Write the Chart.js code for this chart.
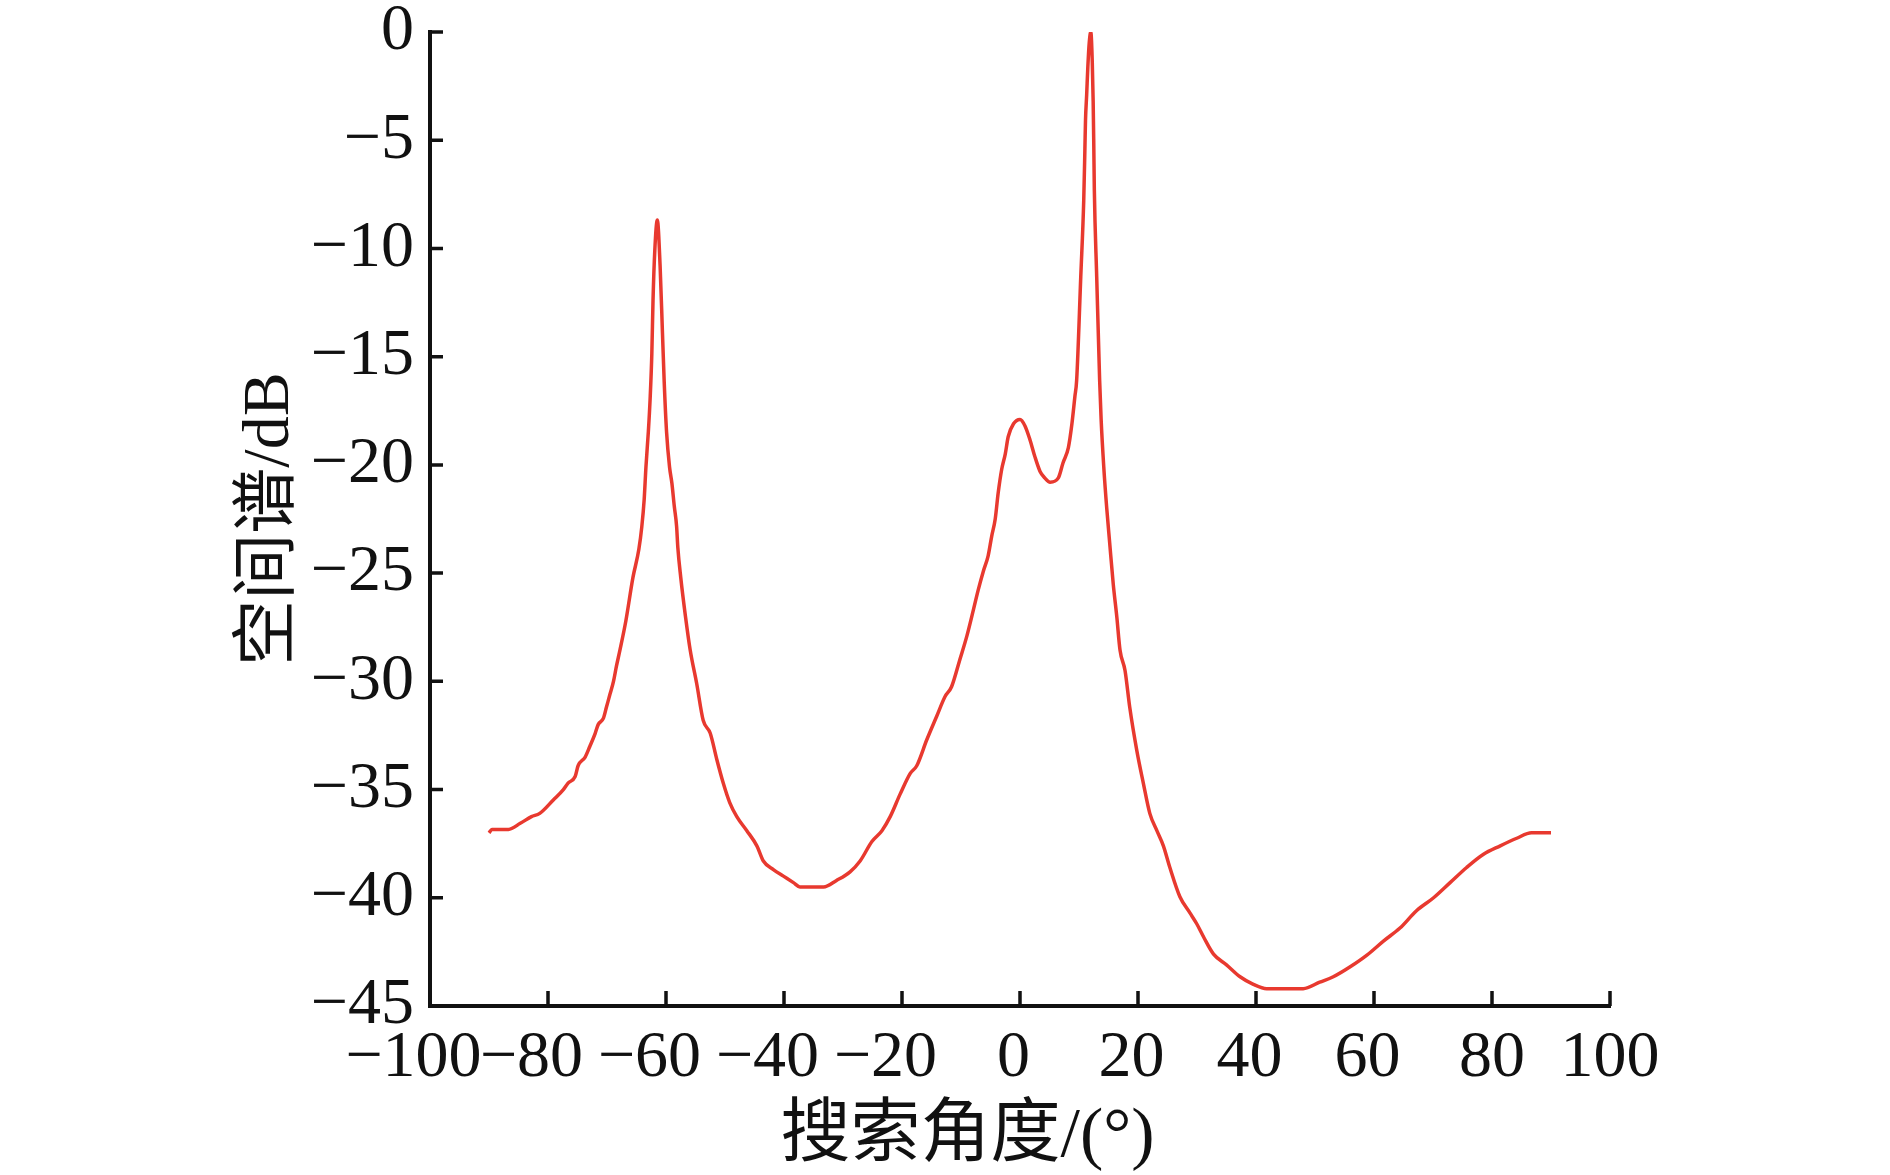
<!DOCTYPE html>
<html>
<head>
<meta charset="utf-8">
<script src="https://cdn.jsdelivr.net/npm/chart.js@4.4.1/dist/chart.umd.min.js"></script>
<style>
  html, body { margin: 0; padding: 0; background: #fff; }
  #wrap { width: 1890px; height: 1175px; }
</style>
</head>
<body>
<div id="wrap"><canvas id="chart" width="1890" height="1175"></canvas></div>
<script>
// 搜索角度 (°)
const angles = [
  -90, -89.5, -86.7, -84.7, -82.8, -81.4, -79.1, -77.4, -76.6, -75.4,
  -74.9, -73.7, -72.9, -72.0, -71.5, -70.6, -70.1, -69.5, -68.9, -68.4,
  -67.8, -66.8, -65.6, -64.6, -64.1, -63.7, -63.4, -63.0, -62.7, -62.4,
  -62.2, -61.9, -61.47, -61.0, -60.6, -60.3, -59.9, -59.4, -59.0, -58.6,
  -58.2, -58.0, -57.5, -56.7, -55.9, -54.8, -53.7, -52.5, -51.4, -50.3,
  -49.2, -48.0, -46.3, -44.6, -43.5, -41.8, -40.1, -38.4, -37.3, -35.0,
  -33.3, -31.1, -28.8, -27.1, -25.1, -23.4, -22.0, -20.3, -18.6, -17.5,
  -15.8, -14.1, -12.7, -11.6, -10.2, -9.0, -7.9, -7.1, -6.2, -5.4,
  -4.8, -4.2, -3.7, -3.1, -2.5, -2.0, -1.1, 0, 0.85, 1.7,
  2.5, 3.4, 4.2, 5.1, 6.5, 7.3, 8.2, 8.8, 9.3, 9.6,
  10.3, 10.8, 11.0, 11.1, 11.3, 11.5, 11.75, 12.0, 12.25, 12.4,
  12.5, 12.6, 13.0, 13.5, 13.75, 14.2, 14.7, 15.2, 15.8, 16.4,
  16.95, 17.8, 18.6, 19.8, 20.9, 22.0, 23.2, 24.3, 25.4, 27.1,
  28.8, 29.95, 31.1, 32.8, 35.0, 37.3, 39.55, 41.8, 45.0, 48.0,
  50.8, 53.1, 55.9, 58.8, 61.6, 64.4, 67.2, 70.1, 72.9, 75.7,
  78.5, 81.4, 84.2, 86.7, 90
];

// 空间谱 (dB)
const spectrum = [
  -37.0, -36.84, -36.84, -36.56, -36.25, -36.1, -35.48, -35.0, -34.7, -34.4,
  -33.9, -33.5, -33.0, -32.4, -32.0, -31.7, -31.2, -30.6, -30.0, -29.3,
  -28.55, -27.2, -25.2, -23.9, -22.85, -21.6, -20.1, -18.5, -17.0, -14.85,
  -12.4, -10.1, -8.69, -10.8, -13.9, -16.2, -18.5, -20.1, -20.85, -21.9,
  -22.85, -23.8, -25.2, -27.0, -28.55, -30.1, -31.8, -32.4, -33.6, -34.7,
  -35.6, -36.25, -36.9, -37.6, -38.3, -38.7, -39.0, -39.3, -39.5, -39.5,
  -39.5, -39.2, -38.8, -38.3, -37.4, -36.9, -36.25, -35.2, -34.25, -33.9,
  -32.7, -31.6, -30.7, -30.25, -29.0, -27.9, -26.7, -25.8, -24.9, -24.2,
  -23.3, -22.5, -21.3, -20.2, -19.5, -18.7, -18.1, -17.9, -18.2, -18.85,
  -19.6, -20.3, -20.6, -20.8, -20.6, -19.9, -19.2, -18.1, -16.85, -16.1,
  -11.3, -7.8, -5.4, -4.1, -2.9, -1.6, -0.45, 0, -1.4, -3.2,
  -5.1, -7.3, -11.3, -16.1, -17.9, -20.1, -22.0, -23.6, -25.5, -27.0,
  -28.55, -29.5, -31.2, -33.2, -34.7, -36.1, -36.9, -37.6, -38.6, -39.95,
  -40.7, -41.2, -41.8, -42.6, -43.1, -43.65, -44.0, -44.2, -44.2, -44.2,
  -43.9, -43.65, -43.2, -42.65, -42.0, -41.4, -40.6, -40.0, -39.3, -38.6,
  -38.0, -37.6, -37.25, -37.0, -37.0
];

const xTickLabels = ['−100', '−80', '−60', '−40', '−20', '0', '20', '40', '60', '80', '100'];
const yTickLabels = ['−45', '−40', '−35', '−30', '−25', '−20', '−15', '−10', '−5', '0'];

const points = angles.map((a, i) => ({ x: a, y: spectrum[i] }));

const tickFont = { family: "'Liberation Serif', 'Times New Roman', serif", size: 66 };
const titleFont = { family: "'Liberation Serif', 'Noto Sans CJK SC', serif", size: 66, lineHeight: 1.0 };

// ticks drawn toward the inside of the plot
const inwardTicks = {
  id: 'inwardTicks',
  afterDraw(chart) {
    const { ctx, chartArea, scales: { x, y } } = chart;
    ctx.save();
    ctx.strokeStyle = '#111';
    ctx.lineWidth = 3.5;
    ctx.beginPath();
    x.ticks.forEach(t => {
      const px = x.getPixelForValue(t.value);
      ctx.moveTo(px, chartArea.bottom);
      ctx.lineTo(px, chartArea.bottom - 15);
    });
    y.ticks.forEach(t => {
      const py = y.getPixelForValue(t.value);
      ctx.moveTo(chartArea.left, py);
      ctx.lineTo(chartArea.left + 13, py);
    });
    ctx.stroke();
    ctx.restore();
  }
};

// digits sit on the tick, a minus hangs to the left
function xLabel(v, i) {
  if (v < 0) return xTickLabels[i] + '\u2002';
  if (v < 80) return xTickLabels[i] + '\u2009';
  return xTickLabels[i];
}

new Chart(document.getElementById('chart'), {
  type: 'line',
  data: {
    datasets: [{
      data: points,
      borderColor: '#e8392f',
      borderWidth: 3.5,
      pointRadius: 0,
      cubicInterpolationMode: 'monotone',
      fill: false
    }]
  },
  options: {
    responsive: false,
    animation: false,
    layout: { padding: { left: 0, top: 32, right: 280, bottom: 0 } },
    plugins: { legend: { display: false }, tooltip: { enabled: false } },
    scales: {
      x: {
        type: 'linear',
        min: -100,
        max: 100,
        afterFit(s) { s.height = 169; s.paddingLeft = 0; s.paddingRight = 0; },
        grid: { drawOnChartArea: false, drawTicks: false },
        border: { display: true, color: '#111', width: 4 },
        ticks: {
          stepSize: 20,
          autoSkip: false,
          maxRotation: 0,
          padding: 13,
          color: '#111',
          font: tickFont,
          callback: xLabel
        },
        title: {
          display: true,
          text: '搜索角度/(°)\u3000  ',
          color: '#111',
          font: { ...titleFont, size: 70 },
          padding: { top: 0, bottom: 2 }
        }
      },
      y: {
        type: 'linear',
        min: -45,
        max: 0,
        afterFit(s) { s.width = 430; s.paddingTop = 0; s.paddingBottom = 0; },
        grid: { drawOnChartArea: false, drawTicks: false },
        border: { display: true, color: '#111', width: 4 },
        ticks: {
          stepSize: 5,
          autoSkip: false,
          padding: 16,
          color: '#111',
          font: tickFont,
          callback: (v, i) => yTickLabels[i]
        },
        title: {
          display: true,
          text: '空间谱/dB',
          color: '#111',
          font: titleFont,
          padding: { top: 238, bottom: 0 }
        }
      }
    }
  },
  plugins: [inwardTicks]
});
</script>
</body>
</html>
